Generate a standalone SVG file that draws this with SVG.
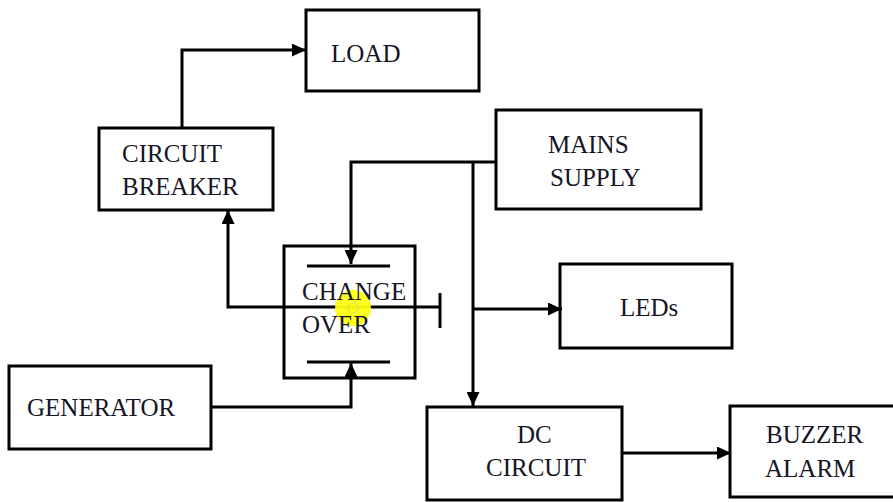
<svg xmlns="http://www.w3.org/2000/svg" width="893" height="502" viewBox="0 0 893 502">
<style>
.box{fill:#fff;stroke:#000;stroke-width:3}
.wire{fill:none;stroke:#000;stroke-width:3}
.lbl{font-family:"Liberation Serif","Times New Roman",serif;font-size:25px;fill:#151525}
</style>
<defs>
<marker id="arr" markerUnits="userSpaceOnUse" markerWidth="15" markerHeight="13" refX="14" refY="6.5" orient="auto">
<path d="M0,0 L14,6.5 L0,13 z" fill="#000"/>
</marker>
</defs>
<rect width="893" height="502" fill="#fff"/>
<g id="load"><rect class="box" x="306" y="10" width="173" height="81"/><text class="lbl" x="331" y="62">LOAD</text></g>
<g id="circuit-breaker"><rect class="box" x="99" y="128" width="174" height="82"/><text class="lbl" x="122" y="162">CIRCUIT</text><text class="lbl" x="122" y="195">BREAKER</text></g>
<g id="mains-supply"><rect class="box" x="496" y="110" width="205" height="99"/><text class="lbl" x="548" y="153">MAINS</text><text class="lbl" x="550" y="186">SUPPLY</text></g>
<g id="change-over"><rect class="box" x="284" y="246" width="131" height="132"/>
<line class="wire" x1="307" y1="266" x2="390" y2="266"/>
<line class="wire" x1="307" y1="362" x2="390" y2="362"/></g>
<g id="leds"><rect class="box" x="560" y="264" width="172" height="84"/><text class="lbl" x="620" y="316">LEDs</text></g>
<g id="generator"><rect class="box" x="9" y="366" width="202" height="83"/><text class="lbl" x="27" y="416">GENERATOR</text></g>
<g id="dc-circuit"><rect class="box" x="427" y="407" width="195" height="93"/><text class="lbl" x="517" y="443">DC</text><text class="lbl" x="486" y="476">CIRCUIT</text></g>
<g id="buzzer-alarm"><rect class="box" x="730" y="406" width="175" height="91"/><text class="lbl" x="766" y="443">BUZZER</text><text class="lbl" x="765" y="477">ALARM</text></g>
<g id="connectors">
<polyline class="wire" points="182,128 182,50 306,50" marker-end="url(#arr)"/>
<polyline class="wire" points="440,307 228,307 228,210" marker-end="url(#arr)"/>
<line class="wire" x1="440" y1="293" x2="440" y2="328"/>
<polyline class="wire" points="496,162 351,162 351,264" marker-end="url(#arr)"/>
<polyline class="wire" points="473,162 473,406" marker-end="url(#arr)"/>
<polyline class="wire" points="473,309 562,309" marker-end="url(#arr)"/>
<polyline class="wire" points="211,407 351,407 351,363" marker-end="url(#arr)"/>
<polyline class="wire" points="622,453 731,453" marker-end="url(#arr)"/>
</g>
<g id="cursor-highlight"><circle cx="353" cy="308" r="18" fill="#ffff10" opacity="0.95"/><circle cx="353" cy="308" r="5" fill="none" stroke="#d8d860" stroke-width="1"/></g>
<g id="change-over-text"><text class="lbl" x="302" y="300">CHANGE</text><text class="lbl" x="302" y="333">OVER</text></g>
</svg>
